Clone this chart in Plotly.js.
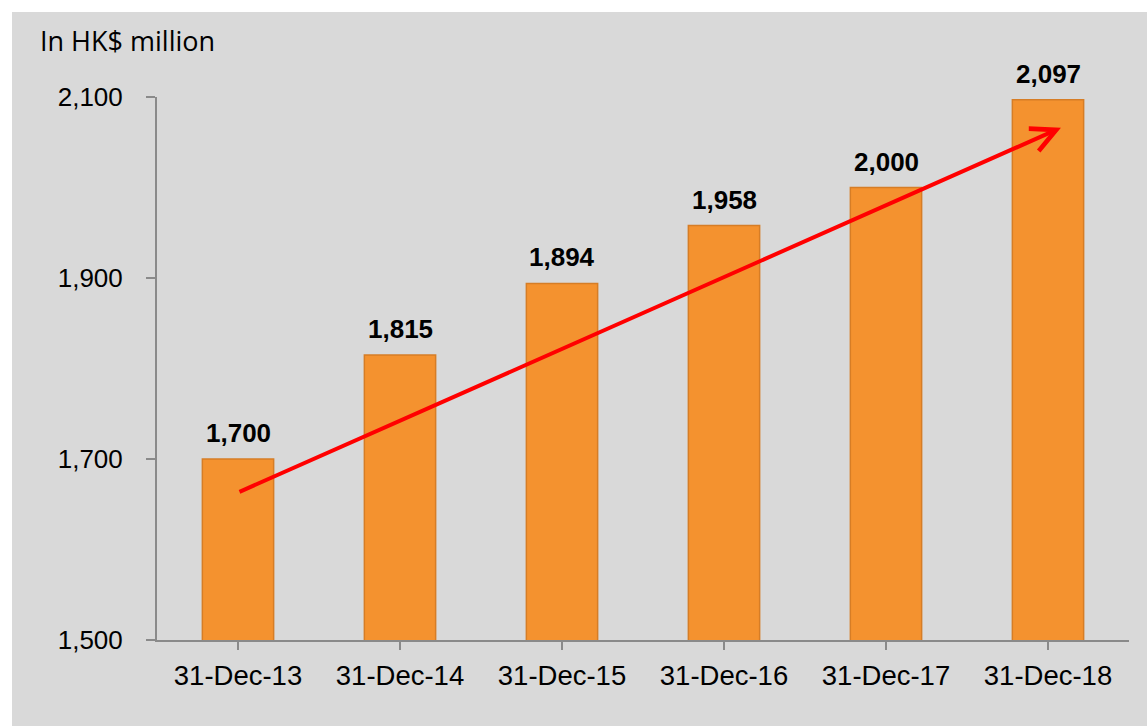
<!DOCTYPE html>
<html>
<head>
<meta charset="utf-8">
<script src="https://cdn.plot.ly/plotly-3.0.1.min.js"></script>
<style>
  html, body { margin: 0; padding: 0; background: #ffffff; }
  #chart { position: absolute; left: 12px; top: 12px; width: 1135px; height: 714px; }
</style>
</head>
<body>
<div id="chart"></div>
<script>
const categories = ["31-Dec-13", "31-Dec-14", "31-Dec-15", "31-Dec-16", "31-Dec-17", "31-Dec-18"];
const values = [1700, 1815, 1894, 1958, 2000, 2097];
const valueLabels = ["1,700", "1,815", "1,894", "1,958", "2,000", "2,097"];
const yTickVals = [1500, 1700, 1900, 2100];
const yTickText = ["1,500", "1,700", "1,900", "2,100"];
const unitLabel = "In HK$ million";
// trend arrow: start/end in data units (category index, value)
const arrowStart = [0, 1663];
const arrowEnd = [5.08, 2066];

const bars = {
  type: "bar",
  x: categories.map((_, i) => i),
  y: values,
  width: 0.44,
  marker: { color: "#f4922f", line: { color: "#d67d26", width: 1.5 } },
  hoverinfo: "none",
  cliponaxis: false
};

const labelAnnotations = values.map((v, i) => ({
  x: i, y: v, xref: "x", yref: "y",
  text: valueLabels[i],
  showarrow: false,
  yanchor: "bottom",
  yshift: 9,
  font: { family: "Liberation Sans, Arial, sans-serif", size: 26, color: "#000000", weight: "bold" }
}));

const arrowAnnotation = {
  x: arrowEnd[0], y: arrowEnd[1], xref: "x", yref: "y",
  ax: arrowStart[0], ay: arrowStart[1], axref: "x", ayref: "y",
  showarrow: true, text: "",
  arrowhead: 5, arrowsize: 1.2, arrowwidth: 4, arrowcolor: "#ff0000",
  standoff: 0, startstandoff: 0
};

const unitAnnotation = {
  xref: "paper", yref: "paper",
  x: -0.1225, y: 1.142,
  xanchor: "left", yanchor: "top",
  text: unitLabel, showarrow: false,
  font: { family: "Open Sans, sans-serif", size: 27, color: "#000000" }
};

const layout = {
  width: 1135, height: 714,
  paper_bgcolor: "#d9d9d9",
  plot_bgcolor: "#d9d9d9",
  margin: { l: 145, r: 18, t: 85, b: 86 },
  showlegend: false,
  xaxis: {
    range: [-0.5, 5.5],
    tickmode: "array",
    tickvals: categories.map((_, i) => i),
    ticktext: categories,
    tickson: "boundaries",
    ticks: "outside", ticklen: 8, tickwidth: 2, tickcolor: "#8a8a8a",
    showline: true, linecolor: "#8a8a8a", linewidth: 2,
    showgrid: false, zeroline: false,
    ticklabelstandoff: 2,
    tickfont: { family: "Liberation Sans, Arial, sans-serif", size: 27.5, color: "#000000" },
    fixedrange: true
  },
  yaxis: {
    range: [1500, 2100],
    tickmode: "array",
    tickvals: yTickVals,
    ticktext: yTickText,
    ticks: "outside", ticklen: 9, tickwidth: 2, tickcolor: "#8a8a8a",
    showline: true, linecolor: "#8a8a8a", linewidth: 2,
    showgrid: false, zeroline: false,
    ticklabelstandoff: 18,
    tickfont: { family: "Liberation Sans, Arial, sans-serif", size: 26, color: "#000000" },
    fixedrange: true
  },
  annotations: [...labelAnnotations, arrowAnnotation, unitAnnotation]
};

Plotly.newPlot("chart", [bars], layout, { displayModeBar: false, staticPlot: true });
</script>
</body>
</html>
